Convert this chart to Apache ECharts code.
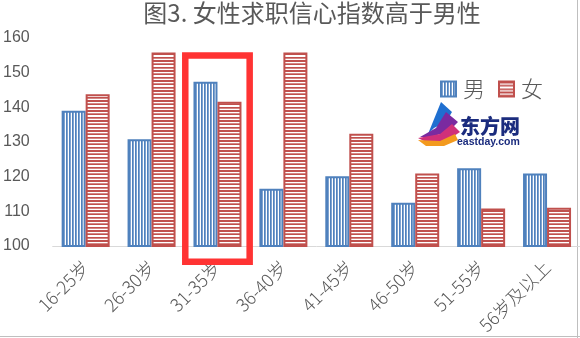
<!DOCTYPE html>
<html>
<head>
<meta charset="utf-8">
<script src="https://cdn.jsdelivr.net/npm/echarts@6/dist/echarts.min.js"></script>
<style>
html,body{margin:0;padding:0;background:#fff;}
#c{width:580px;height:338px;}
</style>
</head>
<body>
<div id="c"></div>
<script>
var categories = ['16-25岁','26-30岁','31-35岁','36-40岁','41-45岁','46-50岁','51-55岁','56岁及以上'];
var maleValues = [139.0, 130.8, 147.4, 116.5, 120.1, 112.5, 122.4, 120.9];
var femaleValues = [143.8, 155.8, 141.6, 155.8, 132.4, 120.9, 110.8, 111.0];
var seriesNames = ['男', '女'];
var yTicks = { min: 100, max: 160, interval: 10 };
var titleText = '图3. 女性求职信心指数高于男性';
var highlightCategory = '31-35岁';

var BLUE = '#4F81BD', RED = '#C0504D';
var CJK = '"Noto Sans CJK SC", "Noto Sans", sans-serif';

function makeVPattern() {
  var c = document.createElement('canvas'); c.width = 3; c.height = 1;
  var g = c.getContext('2d');
  g.fillStyle = '#fff'; g.fillRect(0,0,3,1);
  g.fillStyle = BLUE; g.fillRect(0,0,1,1);
  g.fillStyle = '#7fa3d0'; g.fillRect(1,0,1,1);
  return c;
}
function makeHPattern() {
  var c = document.createElement('canvas'); c.width = 1; c.height = 10;
  var g = c.getContext('2d');
  g.fillStyle = '#fff'; g.fillRect(0,0,1,10);
  g.fillStyle = RED; g.fillRect(0,0,1,2);
  g.fillStyle = '#d48886'; g.fillRect(0,3,1,1);
  g.fillStyle = RED; g.fillRect(0,4,1,1);
  g.fillStyle = RED; g.fillRect(0,7,1,1);
  g.fillStyle = '#d48886'; g.fillRect(0,8,1,1);
  return c;
}

var chart = echarts.init(document.getElementById('c'), null, {renderer: 'canvas'});
var option = {
  animation: false,
  backgroundColor: '#fff',
  title: {
    text: titleText, left: 312, textAlign: 'center', top: 0, padding: 0,
    textStyle: { fontFamily: CJK, fontSize: 24, fontWeight: 400, color: '#595959', lineHeight: 26 }
  },
  legend: {
    left: 435, top: 73, itemWidth: 15, itemHeight: 15, itemGap: 13,
    icon: 'rect',
    textStyle: { fontFamily: CJK, fontSize: 22, fontWeight: 300, color: '#595959', padding: [0,0,0,2] },
    data: seriesNames
  },
  grid: { left: 49.5, top: 38, width: 535, height: 208, containLabel: false },
  xAxis: {
    type: 'category', data: categories,
    axisLine: { lineStyle: { color: '#d9d9d9', width: 1 } },
    axisTick: { show: false },
    axisLabel: { rotate: 45, fontFamily: CJK, fontSize: 18, fontWeight: 300, color: '#595959', margin: 18, interval: 0 }
  },
  yAxis: {
    type: 'value', min: yTicks.min, max: yTicks.max, interval: yTicks.interval,
    axisLine: { show: false }, axisTick: { show: false }, splitLine: { show: false },
    axisLabel: { fontFamily: '"Liberation Sans", sans-serif', fontSize: 16, color: '#595959', margin: 23 }
  },
  series: [
    { name: seriesNames[0], type: 'bar', data: maleValues, barWidth: 24, barGap: '0%',
      itemStyle: { color: { image: makeVPattern(), repeat: 'repeat' }, borderColor: BLUE, borderWidth: 2 } },
    { name: seriesNames[1], type: 'bar', data: femaleValues, barWidth: 24, barGap: '0%',
      itemStyle: { color: { image: makeHPattern(), repeat: 'repeat' }, borderColor: RED, borderWidth: 2 } }
  ]
};
chart.setOption(option);

var topP = chart.convertToPixel({ gridIndex: 0 }, [highlightCategory, 155.9]);
var botP = chart.convertToPixel({ gridIndex: 0 }, [highlightCategory, 100]);
var catW = 535 / categories.length;
var halfW = catW * 0.53;
var sw = 6.5;
chart.setOption({
  graphic: [
    { type: 'rect', z: 100,
      shape: { x: topP[0] - halfW + sw/2, y: topP[1] + sw/2, width: 2*halfW - sw, height: (botP[1] + 19) - topP[1] - sw },
      style: { fill: 'none', stroke: '#FF3333', lineWidth: sw } },
    { type: 'line', shape: { x1: 577.5, y1: 0, x2: 577.5, y2: 338 }, style: { stroke: '#bfbfbf', lineWidth: 1 } },
    { type: 'line', shape: { x1: 0, y1: 336.5, x2: 580, y2: 336.5 }, style: { stroke: '#bfbfbf', lineWidth: 1 } },
    { type: 'polygon', shape: { points: [[441,102],[452,112],[446,122],[434,128],[428,134]] }, style: { fill: '#1f6fd0' } },
    { type: 'polygon', shape: { points: [[446,112],[458,122],[448,132],[430,137],[420,137],[436,128]] }, style: { fill: '#7a2aa0' } },
    { type: 'polygon', shape: { points: [[452,124],[460,132],[448,140],[428,143],[418,138],[440,134]] }, style: { fill: '#d0307a' } },
    { type: 'polygon', shape: { points: [[455,134],[458,140],[444,146],[426,146],[418,140],[440,141]] }, style: { fill: '#f39a1e' } },
    { type: 'text', left: 460, top: 116, style: { text: '东方网', fontFamily: CJK, fontSize: 20, fontWeight: 900, fill: '#1b2c7e' } },
    { type: 'text', left: 457, top: 137, style: { text: 'eastday.com', fontFamily: '"Liberation Sans", sans-serif', fontSize: 10.5, fontWeight: 'bold', fill: '#1b2c7e' } }
  ]
});
</script>
</body>
</html>
